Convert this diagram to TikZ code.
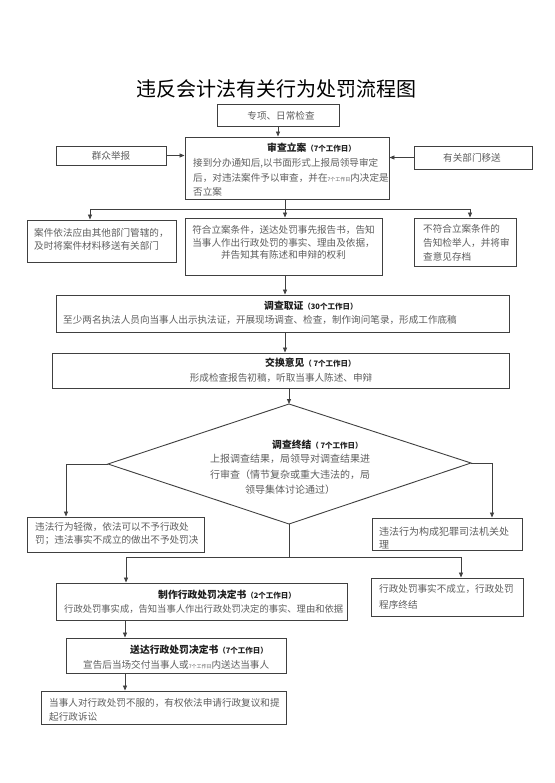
\documentclass[tikz,border=0pt]{standalone}
\usepackage{fontspec}
\setmainfont{Noto Sans CJK SC}
\usetikzlibrary{arrows.meta}
\definecolor{linec}{HTML}{404040}
\definecolor{txtc}{HTML}{5E5E5E}
\definecolor{headc}{HTML}{1E1E1E}
\newcommand\dlbl[1]{{\fontsize{7.5}{9}\selectfont #1}}
\newcommand\tinyd[1]{{\fontsize{5}{6}\selectfont #1}}
\begin{document}
\begin{tikzpicture}[x=1pt,y=-1pt,
  box/.style={draw=linec, line width=0.9pt, rectangle, inner sep=0pt},
  conn/.style={draw=linec, line width=0.8pt},
  arr/.style={conn, -{Triangle[length=5pt,width=4pt]}},
  body/.style={inner sep=0pt, text=txtc, font=\fontsize{9.6}{14}\selectfont, align=left},
  head/.style={inner sep=0pt, text=headc, font=\fontsize{9.8}{12}\selectfont\bfseries},
]
\useasboundingbox[fill=white] (0,0) rectangle (554,783);

% title
\node[inner sep=0pt, font=\fontsize{20}{24}\selectfont, text=black] (title) at (276,89) {违反会计法有关行为处罚流程图};

% boxes
\node[box, minimum width=122pt, minimum height=22pt] (zx) at (278,115) {};
\node[box, minimum width=110pt, minimum height=19pt] (qz) at (111,155.5) {};
\node[box, minimum width=118pt, minimum height=23pt] (yg) at (473,157.5) {};
\node[box, minimum width=204pt, minimum height=62pt] (main) at (287,168) {};
\node[box, minimum width=149pt, minimum height=42pt] (L1) at (101.5,241) {};
\node[box, minimum width=197pt, minimum height=57pt] (M1) at (283.5,246.5) {};
\node[box, minimum width=102pt, minimum height=48pt] (R1) at (465,242) {};
\node[box, minimum width=453pt, minimum height=37pt] (dc) at (282.5,313.5) {};
\node[box, minimum width=457pt, minimum height=35pt] (jh) at (280.5,370.5) {};
\node[box, minimum width=177pt, minimum height=35pt] (L2) at (115.5,534.5) {};
\node[box, minimum width=150pt, minimum height=32pt] (R2) at (447,534) {};
\node[box, minimum width=291pt, minimum height=37pt] (zz) at (201.5,601.5) {};
\node[box, minimum width=152pt, minimum height=38pt] (R3) at (447,597) {};
\node[box, minimum width=220pt, minimum height=35pt] (sd) at (176,655.5) {};
\node[box, minimum width=245pt, minimum height=33pt] (last) at (163.5,707.5) {};

% diamond
\coordinate (dT) at (289,404);
\coordinate (dL) at (108,464);
\coordinate (dR) at (471,463);
\coordinate (dB) at (289,524);
\draw[conn, line width=0.9pt] (dT) -- (dR) -- (dB) -- (dL) -- cycle;

% connectors
\draw[arr] (zx.south) -- (zx.south |- main.north);
\draw[arr] (qz.east) -- (qz.east -| main.west);
\draw[arr] (yg.west) -- (yg.west -| main.east);
\coordinate (b1) at (285,209);
\coordinate (bL) at (90,209);
\coordinate (bR) at (470,209);
\draw[arr] (b1 |- main.south) -- (b1 |- M1.north);
\draw[conn] (bL) -- (bR);
\draw[arr] (bL) -- (bL |- L1.north);
\draw[arr] (bR) -- (bR |- R1.north);
\draw[arr] (b1 |- M1.south) -- (b1 |- dc.north);
\draw[arr] (b1 |- dc.south) -- (b1 |- jh.north);
\draw[arr] (dT |- jh.south) -- (dT);
\coordinate (lb) at (66,464);
\coordinate (rb) at (492,463);
\draw[arr] (dL) -- (lb) -- (lb |- L2.north);
\draw[arr] (dR) -- (rb) -- (rb |- R2.north);
\coordinate (hb) at (289,557);
\coordinate (hL) at (126,557);
\coordinate (hR) at (461,557);
\draw[conn] (dB) -- (hb);
\draw[conn] (hL) -- (hR);
\draw[arr] (hL) -- (hL |- zz.north);
\draw[arr] (hR) -- (hR |- R3.north);
\coordinate (c2) at (125,600);
\draw[arr] (c2 |- zz.south) -- (c2 |- sd.north);
\draw[arr] (c2 |- sd.south) -- (c2 |- last.north);

% texts
\node[body] (tzx) at (281,115.5) {专项、日常检查};
\node[body] (tqz) at (111,156) {群众举报};
\node[body] (tyg) at (472,157.5) {有关部门移送};

\node[head, anchor=west] (hmain) at (267,148) {审查立案\dlbl{（7个工作日）}};
\node[body, anchor=west, font=\fontsize{9.6}{14.5}\selectfont] (tmain) at (193,177.5) {接到分办通知后,以书面形式上报局领导审定\\后，对违法案件予以审查，并在\tinyd{7个工作日}内决定是\\否立案};

\node[body, anchor=west, font=\fontsize{9.6}{13}\selectfont] (tL1) at (34,239.5) {案件依法应由其他部门管辖的，\\及时将案件材料移送有关部门};
\node[body, align=center, font=\fontsize{9.6}{12.8}\selectfont] (tM1) at (283.5,242.5) {符合立案条件，送达处罚事先报告书，告知\\当事人作出行政处罚的事实、理由及依据，\\并告知其有陈述和申辩的权利};
\node[body, anchor=west, font=\fontsize{9.6}{14}\selectfont] (tR1) at (423,243) {不符合立案条件的\\告知检举人，并将审\\查意见存档};

\node[head, anchor=west] (hdc) at (264,306) {调查取证\dlbl{（30个工作日）}};
\node[body, anchor=west] (tdc) at (63,320) {至少两名执法人员向当事人出示执法证，开展现场调查、检查，制作询问笔录，形成工作底稿};

\node[head, anchor=west] (hjh) at (265,363) {交换意见\dlbl{（ 7个工作日）}};
\node[body] (tjh) at (281,378) {形成检查报告初稿，听取当事人陈述、申辩};

\node[head, anchor=west] (hdm) at (272,445) {调查终结\dlbl{（ 7个工作日）}};
\node[body, align=center, font=\fontsize{10}{15.5}\selectfont] (tdm) at (290,474.5) {上报调查结果，局领导对调查结果进\\行审查（情节复杂或重大违法的，局\\领导集体讨论通过）};

\node[body, anchor=west, font=\fontsize{9.6}{13}\selectfont] (tL2) at (35,533.5) {违法行为轻微，依法可以不予行政处\\罚；违法事实不成立的做出不予处罚决};
\node[body, anchor=west, font=\fontsize{10}{13}\selectfont] (tR2) at (379,538.5) {违法行为构成犯罪司法机关处\\理};

\node[head, anchor=west] (hzz) at (158,595) {制作行政处罚决定书\dlbl{（2个工作日）}};
\node[body, anchor=west, font=\fontsize{9.3}{12}\selectfont] (tzz) at (64,609) {行政处罚事实成，告知当事人作出行政处罚决定的事实、理由和依据};
\node[body, anchor=west, font=\fontsize{9.6}{16}\selectfont] (tR3) at (379,597) {行政处罚事实不成立，行政处罚\\程序终结};

\node[head, anchor=west] (hsd) at (130,650) {送达行政处罚决定书\dlbl{（7个工作日）}};
\node[body, anchor=west] (tsd) at (83,665) {宣告后当场交付当事人或\tinyd{7个工作日}内送达当事人};

\node[body, anchor=west, font=\fontsize{9.6}{14}\selectfont] (tlast) at (49,710) {当事人对行政处罚不服的，有权依法申请行政复议和提\\起行政诉讼};
\end{tikzpicture}
\end{document}
